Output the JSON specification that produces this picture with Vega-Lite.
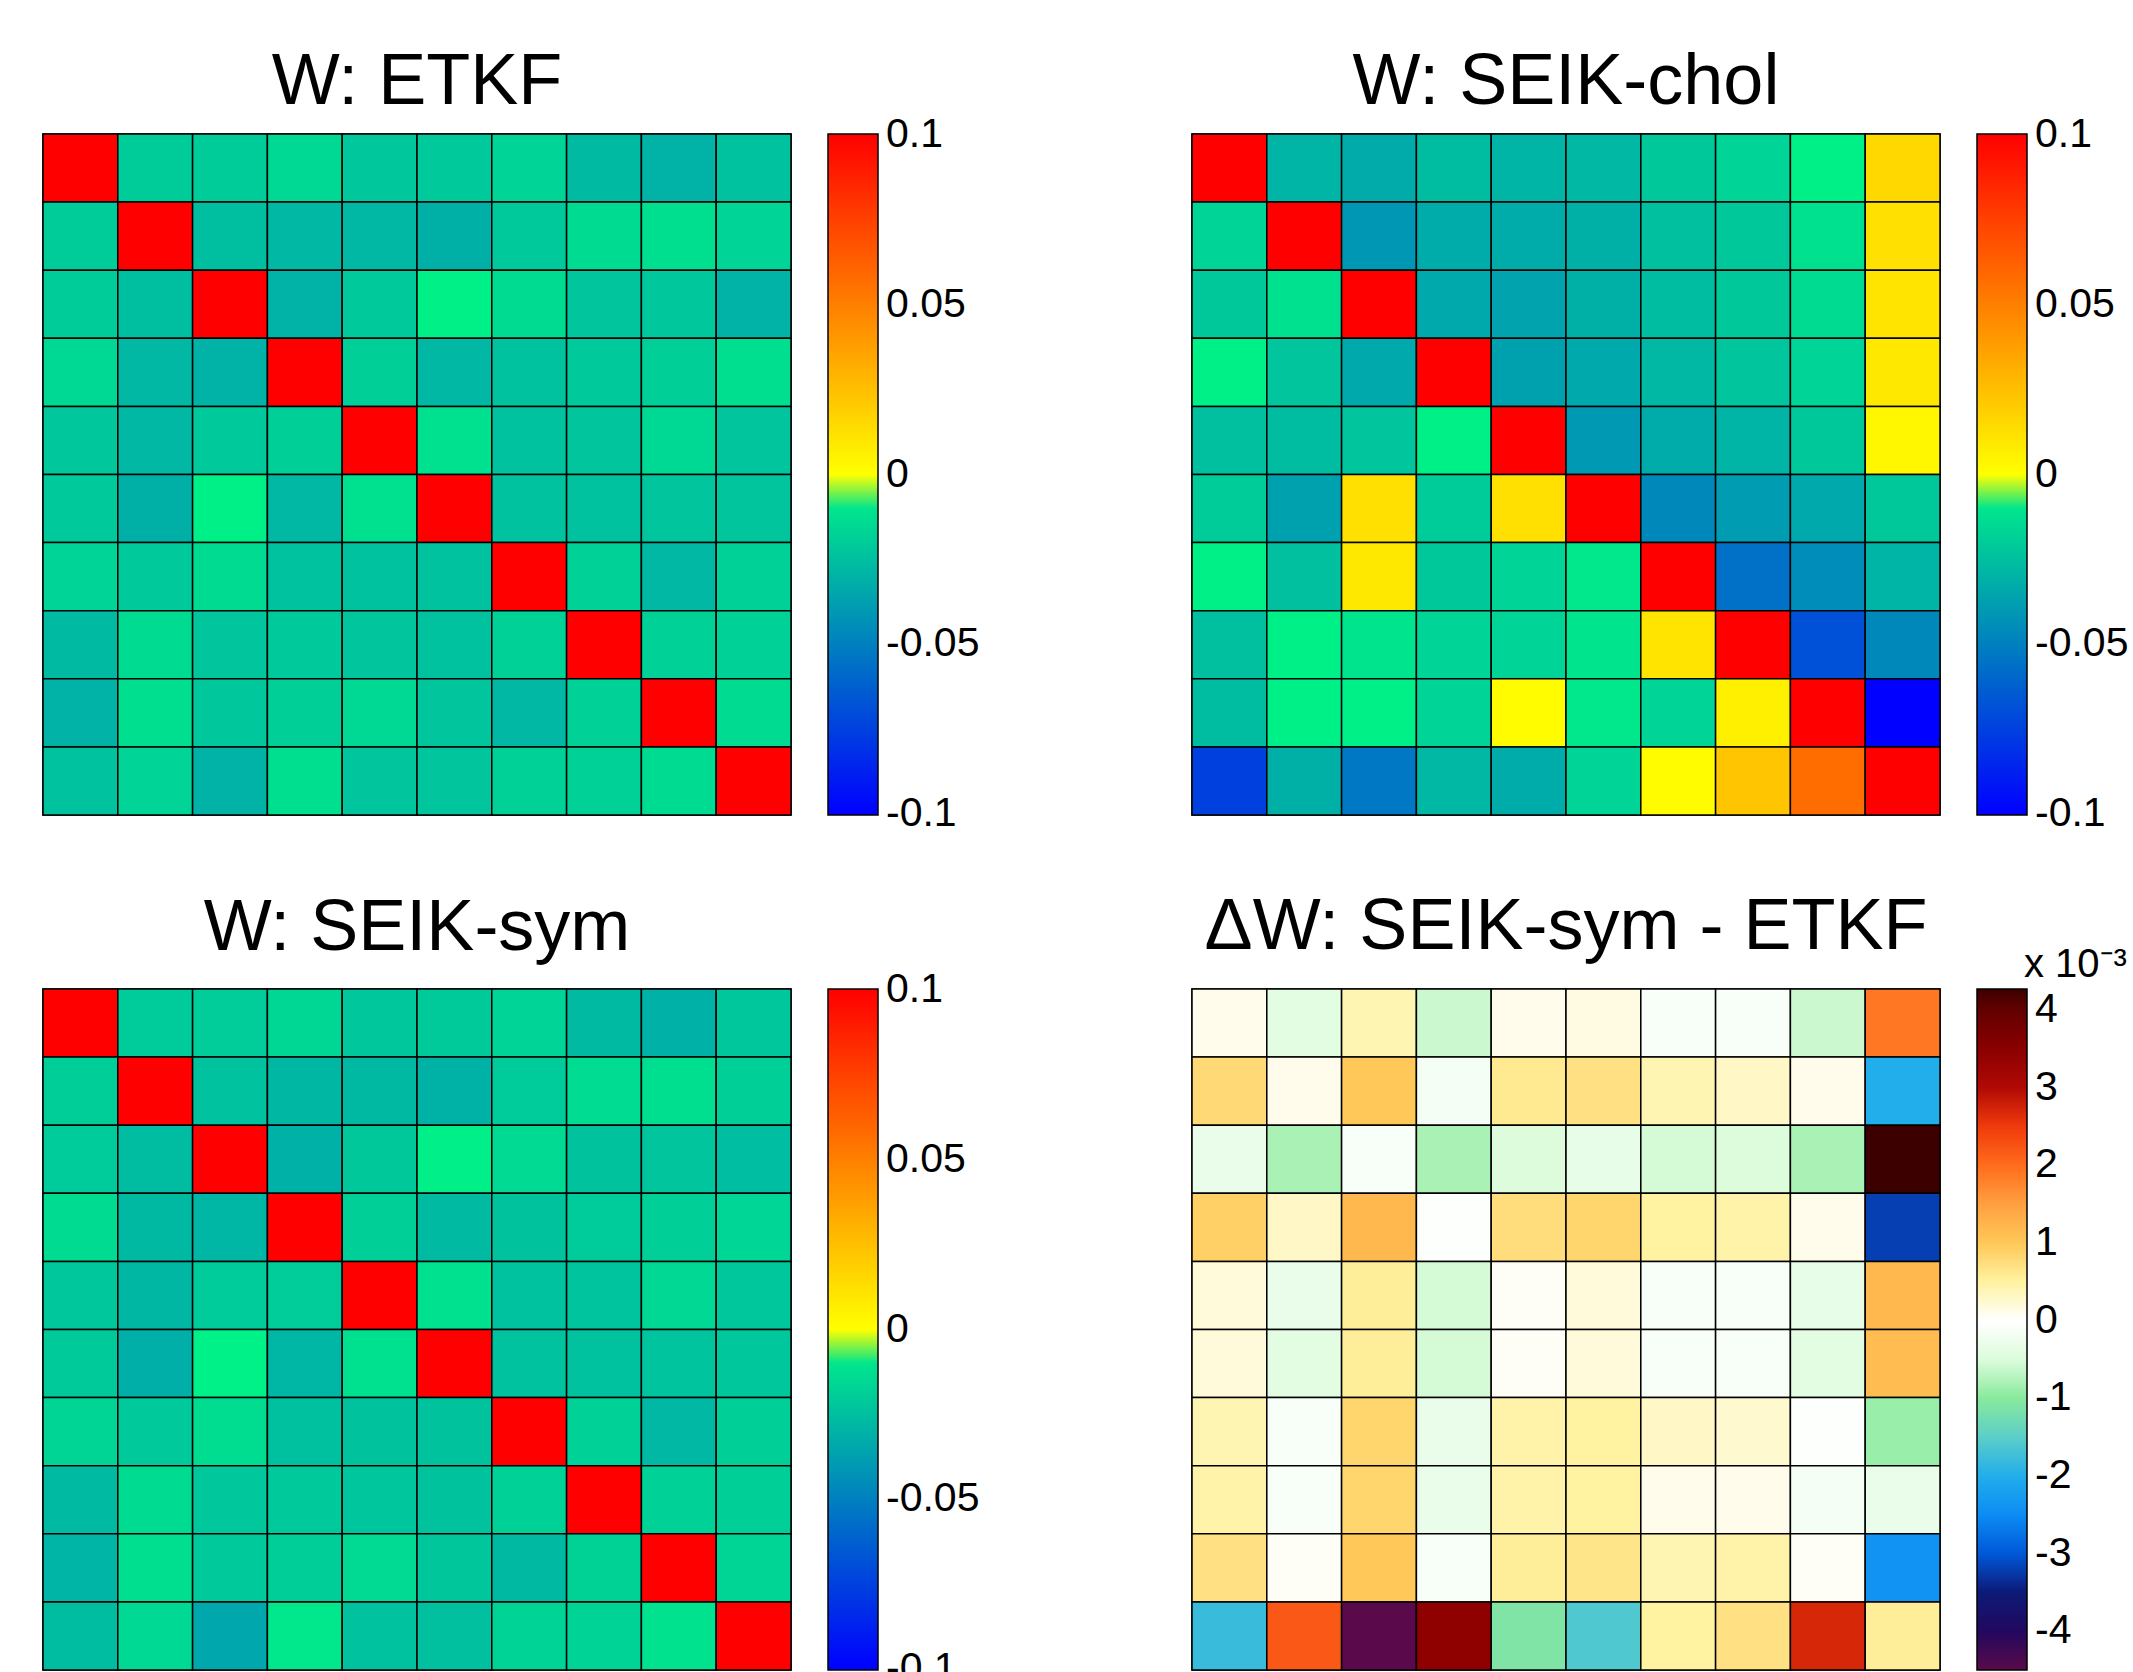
{
  "$schema": "https://vega.github.io/schema/vega-lite/v6.json",
  "padding": {"left": 41, "top": 45, "right": 0, "bottom": 0},
  "background": "white",
  "config": {
    "font": "Liberation Sans",
    "view": {"stroke": "black", "strokeWidth": 1.5},
    "title": {"fontSize": 72, "fontWeight": "normal", "color": "black", "anchor": "middle", "frame": "group"},
    "legend": {
      "gradientLength": 681, "gradientThickness": 50, "gradientStrokeColor": "black", "gradientStrokeWidth": 1.5,
      "labelFontSize": 41, "labelColor": "black", "labelOverlap": false,
      "offset": 37, "padding": 0, "labelFont": "Liberation Sans"
    }
  },
  "datasets": {
    "w": [
      {"r":1,"c":1,"etkf":0.9,"chol":0.9,"sym":0.9001,"dw":0.1},
      {"r":1,"c":2,"etkf":-0.020,"chol":-0.029,"sym":-0.0204,"dw":-0.4},
      {"r":1,"c":3,"etkf":-0.020,"chol":-0.033,"sym":-0.0196,"dw":0.4},
      {"r":1,"c":4,"etkf":-0.015,"chol":-0.026,"sym":-0.0156,"dw":-0.6},
      {"r":1,"c":5,"etkf":-0.022,"chol":-0.029,"sym":-0.0219,"dw":0.1},
      {"r":1,"c":6,"etkf":-0.021,"chol":-0.028,"sym":-0.0209,"dw":0.15},
      {"r":1,"c":7,"etkf":-0.017,"chol":-0.0216,"sym":-0.0171,"dw":-0.1},
      {"r":1,"c":8,"etkf":-0.027,"chol":-0.017,"sym":-0.0271,"dw":-0.1},
      {"r":1,"c":9,"etkf":-0.030,"chol":-0.006,"sym":-0.0306,"dw":-0.6},
      {"r":1,"c":10,"etkf":-0.024,"chol":0.0153,"sym":-0.0221,"dw":1.9},
      {"r":2,"c":1,"etkf":-0.020,"chol":-0.017,"sym":-0.0192,"dw":0.8},
      {"r":2,"c":2,"etkf":0.9,"chol":0.9,"sym":0.9001,"dw":0.1},
      {"r":2,"c":3,"etkf":-0.025,"chol":-0.041,"sym":-0.024,"dw":1.0},
      {"r":2,"c":4,"etkf":-0.028,"chol":-0.0325,"sym":-0.0282,"dw":-0.15},
      {"r":2,"c":5,"etkf":-0.028,"chol":-0.0325,"sym":-0.0274,"dw":0.6},
      {"r":2,"c":6,"etkf":-0.031,"chol":-0.031,"sym":-0.0303,"dw":0.7},
      {"r":2,"c":7,"etkf":-0.021,"chol":-0.0247,"sym":-0.0206,"dw":0.4},
      {"r":2,"c":8,"etkf":-0.014,"chol":-0.0216,"sym":-0.0137,"dw":0.3},
      {"r":2,"c":9,"etkf":-0.013,"chol":-0.012,"sym":-0.0129,"dw":0.1},
      {"r":2,"c":10,"etkf":-0.017,"chol":0.012,"sym":-0.019,"dw":-2.0},
      {"r":3,"c":1,"etkf":-0.020,"chol":-0.0216,"sym":-0.0203,"dw":-0.3},
      {"r":3,"c":2,"etkf":-0.025,"chol":-0.012,"sym":-0.0258,"dw":-0.8},
      {"r":3,"c":3,"etkf":0.9,"chol":0.9,"sym":0.8999,"dw":-0.1},
      {"r":3,"c":4,"etkf":-0.030,"chol":-0.034,"sym":-0.0308,"dw":-0.8},
      {"r":3,"c":5,"etkf":-0.021,"chol":-0.036,"sym":-0.0215,"dw":-0.5},
      {"r":3,"c":6,"etkf":-0.006,"chol":-0.031,"sym":-0.0064,"dw":-0.35},
      {"r":3,"c":7,"etkf":-0.014,"chol":-0.026,"sym":-0.0146,"dw":-0.55},
      {"r":3,"c":8,"etkf":-0.023,"chol":-0.0216,"sym":-0.0235,"dw":-0.5},
      {"r":3,"c":9,"etkf":-0.022,"chol":-0.014,"sym":-0.0228,"dw":-0.8},
      {"r":3,"c":10,"etkf":-0.030,"chol":0.0106,"sym":-0.0257,"dw":4.27},
      {"r":4,"c":1,"etkf":-0.015,"chol":-0.006,"sym":-0.0141,"dw":0.9},
      {"r":4,"c":2,"etkf":-0.028,"chol":-0.023,"sym":-0.0277,"dw":0.3},
      {"r":4,"c":3,"etkf":-0.030,"chol":-0.034,"sym":-0.0288,"dw":1.2},
      {"r":4,"c":4,"etkf":0.9,"chol":0.9,"sym":0.9,"dw":-0.05},
      {"r":4,"c":5,"etkf":-0.019,"chol":-0.037,"sym":-0.0183,"dw":0.75},
      {"r":4,"c":6,"etkf":-0.028,"chol":-0.034,"sym":-0.0272,"dw":0.85},
      {"r":4,"c":7,"etkf":-0.024,"chol":-0.028,"sym":-0.0235,"dw":0.5},
      {"r":4,"c":8,"etkf":-0.021,"chol":-0.023,"sym":-0.0206,"dw":0.45},
      {"r":4,"c":9,"etkf":-0.019,"chol":-0.017,"sym":-0.0189,"dw":0.1},
      {"r":4,"c":10,"etkf":-0.013,"chol":0.009,"sym":-0.0162,"dw":-3.2},
      {"r":5,"c":1,"etkf":-0.022,"chol":-0.0247,"sym":-0.0218,"dw":0.2},
      {"r":5,"c":2,"etkf":-0.028,"chol":-0.026,"sym":-0.0283,"dw":-0.3},
      {"r":5,"c":3,"etkf":-0.021,"chol":-0.023,"sym":-0.0205,"dw":0.55},
      {"r":5,"c":4,"etkf":-0.019,"chol":-0.006,"sym":-0.0196,"dw":-0.55},
      {"r":5,"c":5,"etkf":0.9,"chol":0.9,"sym":0.9001,"dw":0.05},
      {"r":5,"c":6,"etkf":-0.012,"chol":-0.040,"sym":-0.0118,"dw":0.2},
      {"r":5,"c":7,"etkf":-0.024,"chol":-0.0325,"sym":-0.0241,"dw":-0.1},
      {"r":5,"c":8,"etkf":-0.023,"chol":-0.029,"sym":-0.0231,"dw":-0.1},
      {"r":5,"c":9,"etkf":-0.015,"chol":-0.0216,"sym":-0.0154,"dw":-0.35},
      {"r":5,"c":10,"etkf":-0.023,"chol":0.003,"sym":-0.0218,"dw":1.2},
      {"r":6,"c":1,"etkf":-0.021,"chol":-0.020,"sym":-0.0208,"dw":0.2},
      {"r":6,"c":2,"etkf":-0.031,"chol":-0.037,"sym":-0.0314,"dw":-0.4},
      {"r":6,"c":3,"etkf":-0.006,"chol":0.012,"sym":-0.0055,"dw":0.55},
      {"r":6,"c":4,"etkf":-0.028,"chol":-0.020,"sym":-0.0286,"dw":-0.55},
      {"r":6,"c":5,"etkf":-0.012,"chol":0.012,"sym":-0.012,"dw":0.05},
      {"r":6,"c":6,"etkf":0.9,"chol":0.9,"sym":0.9002,"dw":0.2},
      {"r":6,"c":7,"etkf":-0.024,"chol":-0.0467,"sym":-0.0241,"dw":-0.1},
      {"r":6,"c":8,"etkf":-0.024,"chol":-0.039,"sym":-0.0241,"dw":-0.1},
      {"r":6,"c":9,"etkf":-0.023,"chol":-0.034,"sym":-0.0234,"dw":-0.4},
      {"r":6,"c":10,"etkf":-0.023,"chol":-0.0216,"sym":-0.0219,"dw":1.15},
      {"r":7,"c":1,"etkf":-0.017,"chol":-0.006,"sym":-0.0166,"dw":0.4},
      {"r":7,"c":2,"etkf":-0.021,"chol":-0.0247,"sym":-0.0211,"dw":-0.1},
      {"r":7,"c":3,"etkf":-0.014,"chol":0.009,"sym":-0.0132,"dw":0.85},
      {"r":7,"c":4,"etkf":-0.024,"chol":-0.0216,"sym":-0.0243,"dw":-0.3},
      {"r":7,"c":5,"etkf":-0.024,"chol":-0.017,"sym":-0.0236,"dw":0.45},
      {"r":7,"c":6,"etkf":-0.024,"chol":-0.009,"sym":-0.0235,"dw":0.5},
      {"r":7,"c":7,"etkf":0.9,"chol":0.9,"sym":0.9003,"dw":0.3},
      {"r":7,"c":8,"etkf":-0.018,"chol":-0.056,"sym":-0.0178,"dw":0.25},
      {"r":7,"c":9,"etkf":-0.028,"chol":-0.045,"sym":-0.0281,"dw":-0.05},
      {"r":7,"c":10,"etkf":-0.018,"chol":-0.029,"sym":-0.0189,"dw":-0.9},
      {"r":8,"c":1,"etkf":-0.027,"chol":-0.0247,"sym":-0.0266,"dw":0.45},
      {"r":8,"c":2,"etkf":-0.014,"chol":-0.006,"sym":-0.0141,"dw":-0.1},
      {"r":8,"c":3,"etkf":-0.023,"chol":-0.0106,"sym":-0.0222,"dw":0.85},
      {"r":8,"c":4,"etkf":-0.021,"chol":-0.017,"sym":-0.0213,"dw":-0.3},
      {"r":8,"c":5,"etkf":-0.023,"chol":-0.017,"sym":-0.0226,"dw":0.45},
      {"r":8,"c":6,"etkf":-0.024,"chol":-0.0106,"sym":-0.0235,"dw":0.5},
      {"r":8,"c":7,"etkf":-0.018,"chol":0.0106,"sym":-0.0179,"dw":0.1},
      {"r":8,"c":8,"etkf":0.9,"chol":0.9,"sym":0.9001,"dw":0.1},
      {"r":8,"c":9,"etkf":-0.018,"chol":-0.0686,"sym":-0.0182,"dw":-0.15},
      {"r":8,"c":10,"etkf":-0.018,"chol":-0.0467,"sym":-0.0183,"dw":-0.3},
      {"r":9,"c":1,"etkf":-0.030,"chol":-0.026,"sym":-0.0293,"dw":0.7},
      {"r":9,"c":2,"etkf":-0.013,"chol":-0.006,"sym":-0.013,"dw":0.05},
      {"r":9,"c":3,"etkf":-0.022,"chol":-0.006,"sym":-0.021,"dw":1.0},
      {"r":9,"c":4,"etkf":-0.019,"chol":-0.017,"sym":-0.0191,"dw":-0.1},
      {"r":9,"c":5,"etkf":-0.015,"chol":0.001,"sym":-0.0145,"dw":0.55},
      {"r":9,"c":6,"etkf":-0.023,"chol":-0.009,"sym":-0.0224,"dw":0.65},
      {"r":9,"c":7,"etkf":-0.028,"chol":-0.017,"sym":-0.0276,"dw":0.4},
      {"r":9,"c":8,"etkf":-0.018,"chol":0.006,"sym":-0.0176,"dw":0.45},
      {"r":9,"c":9,"etkf":0.9,"chol":0.9,"sym":0.9001,"dw":0.05},
      {"r":9,"c":10,"etkf":-0.014,"chol":-0.1,"sym":-0.0164,"dw":-2.4},
      {"r":10,"c":1,"etkf":-0.024,"chol":-0.075,"sym":-0.0258,"dw":-1.8},
      {"r":10,"c":2,"etkf":-0.017,"chol":-0.031,"sym":-0.0148,"dw":2.2},
      {"r":10,"c":3,"etkf":-0.030,"chol":-0.053,"sym":-0.0345,"dw":-4.5},
      {"r":10,"c":4,"etkf":-0.013,"chol":-0.028,"sym":-0.0096,"dw":3.45},
      {"r":10,"c":5,"etkf":-0.023,"chol":-0.0325,"sym":-0.0241,"dw":-1.1},
      {"r":10,"c":6,"etkf":-0.023,"chol":-0.017,"sym":-0.0246,"dw":-1.6},
      {"r":10,"c":7,"etkf":-0.018,"chol":0.001,"sym":-0.0175,"dw":0.5},
      {"r":10,"c":8,"etkf":-0.018,"chol":0.023,"sym":-0.0173,"dw":0.7},
      {"r":10,"c":9,"etkf":-0.014,"chol":0.0576,"sym":-0.0113,"dw":2.7},
      {"r":10,"c":10,"etkf":0.9,"chol":0.9,"sym":0.9006,"dw":0.55}
    ]
  },
  "data": {"name": "w"},
  "columns": 2,
  "spacing": {"row": 55, "column": 209},
  "resolve": {"scale": {"color": "independent"}},
  "concat": [
    {
      "width": 748, "height": 681,
      "title": {"text": "W: ETKF", "offset": 14},
      "mark": {"type": "rect", "stroke": "black", "strokeWidth": 1.5},
      "encoding": {
        "x": {"field": "c", "type": "ordinal", "axis": null},
        "y": {"field": "r", "type": "ordinal", "axis": null},
        "color": {
          "field": "etkf", "type": "quantitative",
          "scale": {"domain": [-0.1003, -0.00001, 0, 0.1003], "range": ["#0000ff", "#00ff80", "#ffff00", "#ff0000"], "clamp": true, "interpolate": "rgb"},
          "legend": {"title": null, "orient": "right", "labelOffset": 8, "values": [-0.1, -0.05, 0, 0.05, 0.1], "labelExpr": "'' + datum.value"}
        }
      }
    },
    {
      "width": 748, "height": 681,
      "title": {"text": "W: SEIK-chol", "offset": 14},
      "mark": {"type": "rect", "stroke": "black", "strokeWidth": 1.5},
      "encoding": {
        "x": {"field": "c", "type": "ordinal", "axis": null},
        "y": {"field": "r", "type": "ordinal", "axis": null},
        "color": {
          "field": "chol", "type": "quantitative",
          "scale": {"domain": [-0.1003, -0.00001, 0, 0.1003], "range": ["#0000ff", "#00ff80", "#ffff00", "#ff0000"], "clamp": true, "interpolate": "rgb"},
          "legend": {"title": null, "orient": "right", "labelOffset": 8, "values": [-0.1, -0.05, 0, 0.05, 0.1], "labelExpr": "'' + datum.value"}
        }
      }
    },
    {
      "width": 748, "height": 681,
      "title": {"text": "W: SEIK-sym", "offset": 23},
      "mark": {"type": "rect", "stroke": "black", "strokeWidth": 1.5},
      "encoding": {
        "x": {"field": "c", "type": "ordinal", "axis": null},
        "y": {"field": "r", "type": "ordinal", "axis": null},
        "color": {
          "field": "sym", "type": "quantitative",
          "scale": {"domain": [-0.1003, -0.00001, 0, 0.1003], "range": ["#0000ff", "#00ff80", "#ffff00", "#ff0000"], "clamp": true, "interpolate": "rgb"},
          "legend": {"title": null, "orient": "right", "labelOffset": 8, "values": [-0.1, -0.05, 0, 0.05, 0.1], "labelExpr": "'' + datum.value"}
        }
      }
    },
    {
      "width": 748, "height": 681,
      "title": {"text": "ΔW: SEIK-sym - ETKF", "offset": -19},
      "mark": {"type": "rect", "stroke": "black", "strokeWidth": 1.5},
      "encoding": {
        "x": {"field": "c", "type": "ordinal", "axis": null},
        "y": {"field": "r", "type": "ordinal", "axis": null},
        "color": {
          "field": "dw", "type": "quantitative",
          "scale": {
            "domain": [-4.5, -4, -3.5, -3, -2.5, -2, -1.5, -1, -0.5, 0, 0.5, 1, 1.5, 2, 2.5, 3, 3.5, 4, 4.27],
            "range": ["#5a0a4a", "#22085e", "#0c1a78", "#0058d8", "#0c8cf4", "#22aeea", "#5ccec8", "#88ea9c", "#dcfcdc", "#ffffff", "#fff2a0", "#ffc858", "#ffa040", "#ff6c1c", "#f03a0c", "#b00a04", "#8a0000", "#620000", "#3c0000"],
            "clamp": true, "interpolate": "rgb"
          },
          "legend": {
            "title": "x 10⁻³", "orient": "none", "legendX": 785, "legendY": -44,
            "titleFontSize": 40, "titleFont": "Liberation Sans", "titleFontWeight": "normal", "titleColor": "black",
            "titleAnchor": "middle", "titleAlign": "left", "titlePadding": 4, "labelOffset": 8,
            "values": [-4, -3, -2, -1, 0, 1, 2, 3, 4], "labelExpr": "'' + datum.value"
          }
        }
      }
    }
  ]
}
